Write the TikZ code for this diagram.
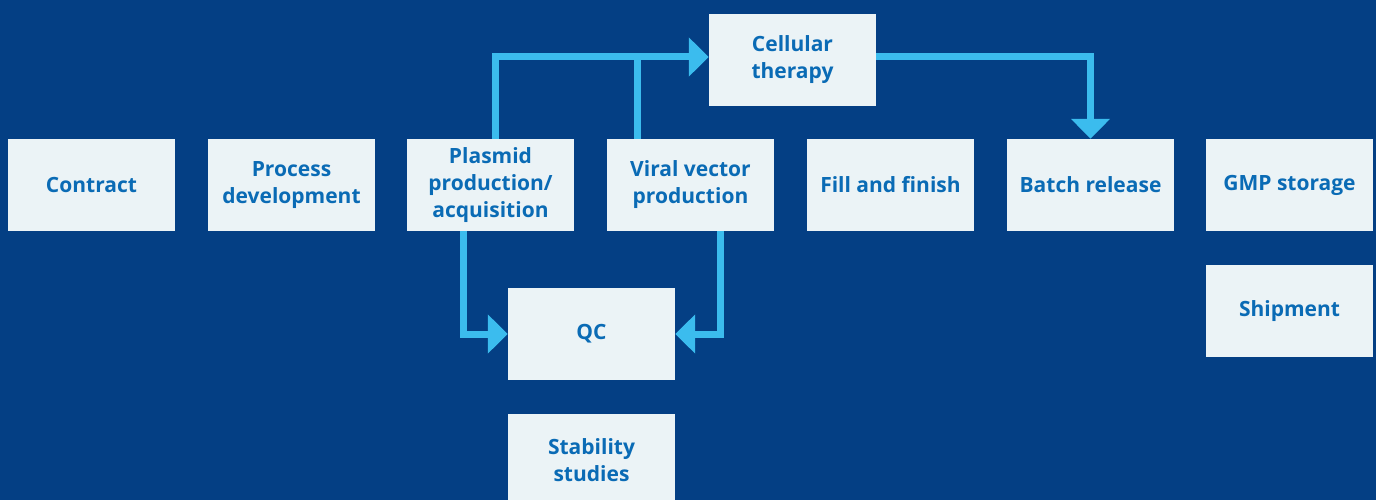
\documentclass[tikz,border=0pt]{standalone}
\usepackage{fontspec}
\setmainfont{Open Sans}
\usepackage{xcolor}
\usetikzlibrary{arrows.meta}

\definecolor{bgblue}{HTML}{043F84}
\definecolor{boxfill}{HTML}{EBF3F6}
\definecolor{boxtext}{HTML}{0A6BB5}
\definecolor{flowblue}{HTML}{3BBCEE}

\tikzset{
  stage/.style={rectangle, fill=boxfill, inner sep=0pt, minimum width=167pt, minimum height=92pt,
    align=center, text=boxtext, font=\bfseries\fontsize{21}{27}\selectfont},
  pipe/.style={draw=flowblue, line width=7pt, line join=miter},
  flow/.style={pipe, -{Triangle[length=20pt, width=38pt]}}
}

\begin{document}
\begin{tikzpicture}[x=1pt, y=-1pt]
            \fill[bgblue] (0,0) rectangle (1376,500);
            \useasboundingbox (0,0) rectangle (1376,500);

            \node[stage] (contract) at (91.5, 185) {Contract};
            \node[stage] (process) at (291.5, 185) {Process\\development};
            \node[stage] (plasmid) at (490.5, 185) {Plasmid\\production/\\acquisition};
            \node[stage] (viral) at (690.5, 185) {Viral vector\\production};
            \node[stage] (fill) at (890.5, 185) {Fill and finish};
            \node[stage] (batch) at (1090.5, 185) {Batch release};
            \node[stage] (gmp) at (1289.5, 185) {GMP storage};
            \node[stage] (cell) at (792.5, 60) {Cellular\\therapy};
            \node[stage] (qc) at (591.5, 334) {QC};
            \node[stage] (ship) at (1289.5, 311) {Shipment};
            \node[stage] (stab) at (591.5, 460) {Stability\\studies};

            \coordinate (join) at (637, 57);

            \draw[flow] ([xshift=4.5pt]plasmid.north) |- ([yshift=3pt]cell.west);
            \draw[pipe] (viral.north -| join) -- (join);
            \draw[flow] ([yshift=3pt]cell.east) -| (batch.north);
            \draw[flow] ([xshift=-27.5pt]plasmid.south) |- (qc.west);
            \draw[flow] ([xshift=29.5pt]viral.south) |- (qc.east);
        \end{tikzpicture}
\end{document}
